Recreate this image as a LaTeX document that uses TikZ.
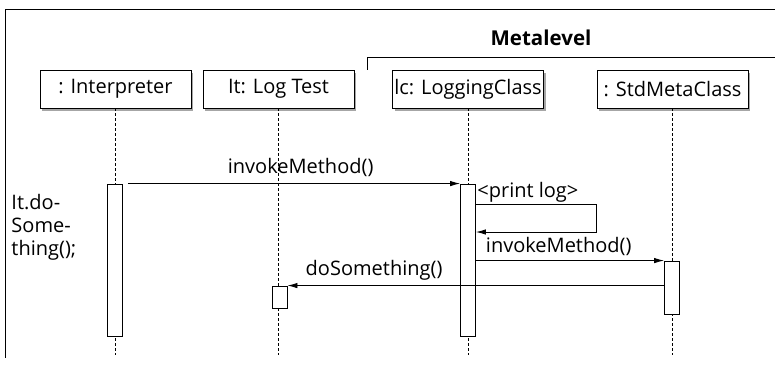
\documentclass[tikz,border=0pt]{standalone}
\usepackage{fontspec}
\setmainfont{Open Sans}
\usetikzlibrary{positioning, calc, arrows.meta, shadows}

\begin{document}
\begin{tikzpicture}[x=1pt, y=-1pt, line width=0.9pt,
	font=\fontsize{20}{23}\selectfont,
	obj/.style={draw, fill=white, minimum width=151pt, minimum height=38pt, inner sep=0pt,
		drop shadow={shadow xshift=2pt, shadow yshift=-2.5pt, fill=black, opacity=0.35}},
	bar/.style={draw, fill=white, minimum width=15pt, inner sep=0pt},
	life/.style={densely dashed, line width=0.7pt},
	msg/.style={-{Latex[length=10pt, width=5.5pt]}}]
\useasboundingbox (0, 0) rectangle (775, 365);
\draw (775, 9) -- (5, 9) -- (5, 358);
\draw (775, 57) -- (367, 57) -- (367, 70);
\node[font=\fontsize{20.5}{22}\bfseries\selectfont] (meta) at (541, 38) {Metalevel};
\coordinate (bot) at (0, 355);
\node[obj] (interp) at (115.5, 89) {: Interpreter};
\node[obj] (logtest) at (278.5, 89) {It: Log Test};
\node[obj] (logcls) at (468, 89) {lc: LoggingClass};
\node[obj] (stdmeta) at (672.5, 89) {: StdMetaClass};
\foreach \o in {interp, logtest, logcls, stdmeta}
	\draw[life] (\o.south) -- (\o.south |- bot);
\node[bar, minimum height=152pt] (interpact) at (115, 260) {};
\node[bar, minimum height=22pt] (testact) at (279.5, 297) {};
\node[bar, minimum height=152pt] (logact) at (468, 260) {};
\node[bar, minimum height=53pt] (stdact) at (672, 287.5) {};
\node[anchor=west, align=left, inner sep=0pt] (caller) at (11, 227) {It.do-\\Some-\\thing();};
\draw[msg] ([xshift=5pt]interpact.north east) -- node[pos=0.52, above=3pt] {invokeMethod()} (logact.north west);
\coordinate (loop) at (596, 218);
\draw[msg] ($(logact.east)+(0,-56)$) coordinate (ls) -| ($(loop)+(0,14)$) coordinate (lr) -- (logact.east |- lr);
\node[anchor=south west, inner sep=1pt] (printlog) at (ls) {<print log>};
\draw[msg] (logact.east |- stdact.north) -- node[pos=0.44, above=1pt] {invokeMethod()} (stdact.north west);
\draw[msg] (stdact.west |- testact.north) -- node[pos=0.77, above=1pt] {doSomething()} (testact.north east);
\end{tikzpicture}
\end{document}
